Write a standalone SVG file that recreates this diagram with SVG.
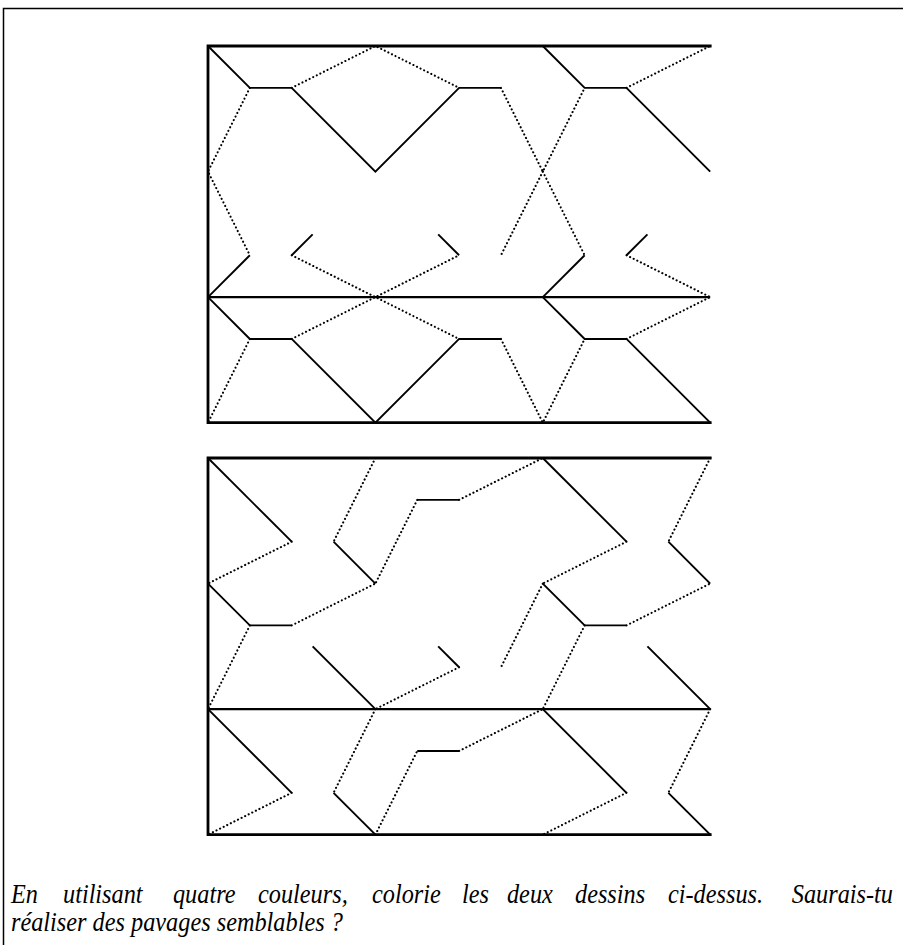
<svg xmlns="http://www.w3.org/2000/svg" width="903" height="945" viewBox="0 0 903 945">
<style>
.frame{fill:none;stroke:#000;stroke-width:2.8;stroke-linecap:square}
.mid{fill:none;stroke:#000;stroke-width:2.2}
.s{fill:none;stroke:#000;stroke-width:1.9;stroke-linejoin:miter}
.d{fill:none;stroke:#000;stroke-width:2.1;stroke-linecap:round;stroke-dasharray:0.1 3.9}
.t{font-family:"Liberation Serif","Times New Roman",serif;font-style:italic;font-size:27px;fill:#000}
</style>
<rect width="903" height="945" fill="#fff"/>
<path d="M3.5 945V8.5H903" fill="none" stroke="#000" stroke-width="1.5"/>

<g id="figure-top" transform="translate(208,46)">
  <g id="top-frame">
    <path class="frame" d="M502.2 0H0V376.65H502.2"/>
    <path class="mid" d="M0 251.1H502.2"/>
  </g>
  <g id="top-solid">
    <path class="s" d="M0 0L41.85 41.85H83.7L167.4 125.55L251.1 41.85H292.95"/>
    <path class="s" d="M334.8 0L376.65 41.85H418.5L502.2 125.55"/>
    <path class="s" d="M104.63 188.33L83.7 209.25"/>
    <path class="s" d="M230.18 188.33L251.1 209.25"/>
    <path class="s" d="M439.43 188.33L418.5 209.25"/>
    <path class="s" d="M41.85 209.25L0 251.1"/>
    <path class="s" d="M376.65 209.25L334.8 251.1"/>
    <path class="s" d="M0 251.1L41.85 292.95H83.7L167.4 376.65L251.1 292.95H292.95"/>
    <path class="s" d="M334.8 251.1L376.65 292.95H418.5L502.2 376.65"/>
  </g>
  <g id="top-dotted">
    <path class="d" d="M83.7 41.85L167.4 0L251.1 41.85"/>
    <path class="d" d="M41.85 41.85L0 125.55L41.85 209.25"/>
    <path class="d" d="M292.95 41.85L334.8 125.55L376.65 41.85"/>
    <path class="d" d="M418.5 41.85L502.2 0"/>
    <path class="d" d="M334.8 125.55L292.95 209.25"/>
    <path class="d" d="M334.8 125.55L376.65 209.25"/>
    <path class="d" d="M83.7 209.25L167.4 251.1L251.1 209.25"/>
    <path class="d" d="M418.5 209.25L502.2 251.1"/>
    <path class="d" d="M83.7 292.95L167.4 251.1L251.1 292.95"/>
    <path class="d" d="M41.85 292.95L0 376.65"/>
    <path class="d" d="M292.95 292.95L334.8 376.65L376.65 292.95"/>
    <path class="d" d="M418.5 292.95L502.2 251.1"/>
  </g>
</g>

<g id="figure-bottom" transform="translate(208,458)">
  <g id="bottom-frame">
    <path class="frame" d="M502.2 0H0V376.65H502.2"/>
    <path class="mid" d="M0 251.1H502.2"/>
  </g>
  <g id="bottom-solid">
    <path class="s" d="M0 0L83.7 83.7"/>
    <path class="s" d="M125.55 83.7L167.4 125.55"/>
    <path class="s" d="M209.25 41.85H251.1"/>
    <path class="s" d="M334.8 0L418.5 83.7"/>
    <path class="s" d="M460.35 83.7L502.2 125.55"/>
    <path class="s" d="M0 125.55L41.85 167.4H83.7"/>
    <path class="s" d="M104.63 188.33L167.4 251.1"/>
    <path class="s" d="M230.18 188.33L251.1 209.25"/>
    <path class="s" d="M334.8 125.55L376.65 167.4H418.5"/>
    <path class="s" d="M439.43 188.33L502.2 251.1"/>
    <path class="s" d="M0 251.1L83.7 334.8"/>
    <path class="s" d="M125.55 334.8L167.4 376.65"/>
    <path class="s" d="M209.25 292.95H251.1"/>
    <path class="s" d="M334.8 251.1L418.5 334.8"/>
    <path class="s" d="M460.35 334.8L502.2 376.65"/>
  </g>
  <g id="bottom-dotted">
    <path class="d" d="M83.7 83.7L0 125.55"/>
    <path class="d" d="M167.4 0L125.55 83.7"/>
    <path class="d" d="M209.25 41.85L167.4 125.55"/>
    <path class="d" d="M251.1 41.85L334.8 0"/>
    <path class="d" d="M418.5 83.7L334.8 125.55"/>
    <path class="d" d="M502.2 0L460.35 83.7"/>
    <path class="d" d="M83.7 167.4L167.4 125.55"/>
    <path class="d" d="M41.85 167.4L0 251.1"/>
    <path class="d" d="M251.1 209.25L167.4 251.1"/>
    <path class="d" d="M334.8 125.55L292.95 209.25"/>
    <path class="d" d="M418.5 167.4L502.2 125.55"/>
    <path class="d" d="M376.65 167.4L334.8 251.1"/>
    <path class="d" d="M83.7 334.8L0 376.65"/>
    <path class="d" d="M167.4 251.1L125.55 334.8"/>
    <path class="d" d="M167.4 376.65L209.25 292.95"/>
    <path class="d" d="M251.1 292.95L334.8 251.1"/>
    <path class="d" d="M418.5 334.8L334.8 376.65"/>
    <path class="d" d="M502.2 251.1L460.35 334.8"/>
  </g>
</g>

<g id="caption" class="t" transform="scale(0.9 1)">
  <text y="903"><tspan x="12.2">En</tspan><tspan x="70">utilisant</tspan><tspan x="192.2">quatre</tspan><tspan x="286.7">couleurs,</tspan><tspan x="413.3">colorie</tspan><tspan x="513.3">les</tspan><tspan x="563.3">deux</tspan><tspan x="638.9">dessins</tspan><tspan x="742.2">ci-dessus.</tspan><tspan x="992.2" text-anchor="end">Saurais-tu</tspan></text>
  <text x="12.2" y="931">réaliser des pavages semblables ?</text>
</g>
</svg>
